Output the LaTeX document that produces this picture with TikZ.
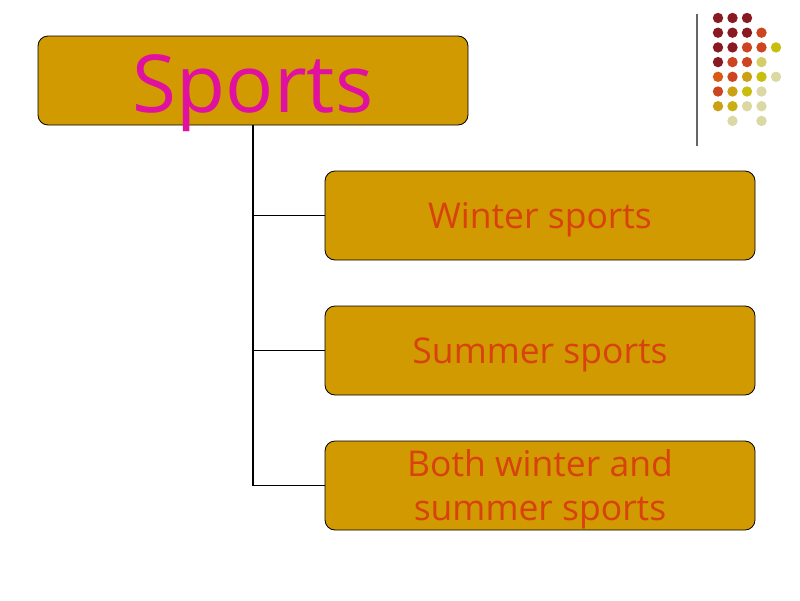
\documentclass[tikz,border=0pt]{standalone}
\usepackage{fontspec}
\setmainfont{Open Sans}
\usetikzlibrary{positioning}

\definecolor{boxfill}{HTML}{D09A00}
\definecolor{titletext}{HTML}{E010A0}
\definecolor{itemtext}{HTML}{D8420E}
\definecolor{dred}{HTML}{8A1A22}
\definecolor{ored}{HTML}{CC4420}
\definecolor{orng}{HTML}{D85A14}
\definecolor{gold}{HTML}{CCA014}
\definecolor{yell}{HTML}{C8BE10}
\definecolor{pale}{HTML}{DCD8A4}

\begin{document}
\begin{tikzpicture}[
	x=1pt,y=-1pt,
	box/.style={
	draw=black,fill=boxfill,rounded corners=10pt,line width=0.8pt,
	minimum width=430pt,minimum height=89pt,inner sep=0pt,align=center,
	},
	item/.style={
	box,font=\fontsize{35.5}{44}\selectfont,text=itemtext,
	text height=34pt,text depth=8pt,
	},
	linie/.style={
	draw=black,solid,line width=1.6pt,
	}
	]
\useasboundingbox (0,0) rectangle (800,600);

\node[box, font=\fontsize{80}{84}\selectfont, text=titletext,
	text height=75pt, text depth=12pt] (sports) at (253,80.5) {Sports};
\node[item] (winter) at (540,215.5) {Winter sports};
\node[item] (summer) at (540,350.5) {Summer sports};
\node[item, text height=78pt] (both) at (540,485.5) {Both winter and\\summer sports};

\draw [linie] (sports.south) to (sports.south |- both.west) to (both.west);
\draw [linie] (sports.south |- winter.west) to (winter.west);
\draw [linie] (sports.south |- summer.west) to (summer.west);

% decoration top right
\draw [gray!80!black, line width=1.2pt] (697,14) -- (697,146);
\foreach \r/\c/\col in {1/1/dred,1/2/dred,1/3/dred,
	2/1/dred,2/2/dred,2/3/dred,2/4/ored,
	3/1/dred,3/2/dred,3/3/ored,3/4/ored,3/5/yell,
	4/1/dred,4/2/ored,4/3/ored,4/4/pale!60!yell,
	5/1/orng,5/2/ored,5/3/gold,5/4/yell,5/5/pale,
	6/1/ored,6/2/gold,6/3/yell,6/4/pale,
	7/1/gold,7/2/gold!50!yell,7/3/pale,7/4/pale,
	8/2/pale,8/4/pale}
	\fill[\col] ({718+14.5*(\c-1)},{18+14.7*(\r-1)}) circle (5.2);

\end{tikzpicture}
\end{document}
